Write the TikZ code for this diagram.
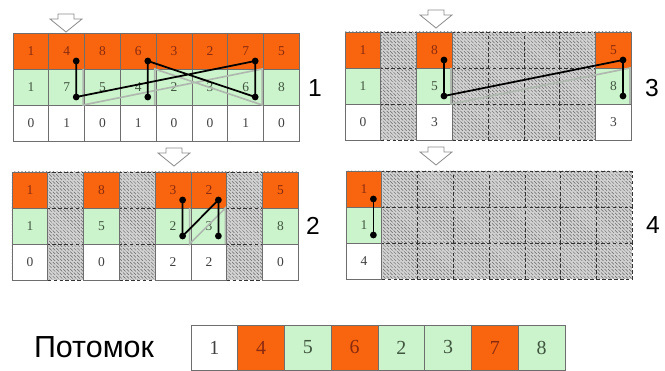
\documentclass[tikz,border=0pt]{standalone}
\usepackage{fontspec}
\setmainfont{Liberation Serif}
\newfontfamily\labelfont{Liberation Sans}
\usetikzlibrary{patterns}
\definecolor{cellorange}{HTML}{F8650E}
\definecolor{cellgreen}{HTML}{CCF4CC}
\definecolor{textred}{HTML}{8A2A10}
\definecolor{textgreen}{HTML}{3F563F}
\definecolor{shadowgray}{HTML}{AEB8AE}
\definecolor{gridgray}{HTML}{6E6E6E}
\definecolor{arrowgray}{HTML}{8C8C8C}
\newcommand{\hatchedgrid}[1]{\foreach \x in {0,...,7}{\foreach \y in {0,1,2}
        \node[box,hatched] (#1-\y-\x) at (\x*35.8+17.9,\y*36+18){};}}
\newcommand{\livecolumn}[5]{\node[box,orangebox] (#1-0-#2) at (#2*35.8+17.9,18){#3};
        \node[box,greenbox] (#1-1-#2) at (#2*35.8+17.9,54){#4};
        \node[box,whitebox] (#1-2-#2) at (#2*35.8+17.9,90){#5};}
\newcommand{\dotat}[1]{\coordinate (#1-dot) at ([shift={(9.5,10)}]#1.center);}
\newcommand{\blockarrow}[2]{\draw[blockarrow] (#1-8,#2) -- (#1+8,#2) -- (#1+8,#2+5) -- (#1+16,#2+5)
        -- (#1,#2+18) -- (#1-16,#2+5) -- (#1-8,#2+5) -- cycle;}

\begin{document}
\begin{tikzpicture}
        [x=0.03cm,y=-0.03cm,
        box/.style={rectangle,draw=gridgray,line width=0.6pt,minimum width=1.074cm,minimum height=1.08cm,inner sep=0pt,font=\fontsize{11.5}{13}\selectfont},
        orangebox/.style={fill=cellorange,text=textred},
        greenbox/.style={fill=cellgreen,text=textgreen},
        whitebox/.style={fill=white,text=black!75},
        hatched/.style={draw=black!80,densely dashed,preaction={fill=gray!35},pattern=north west lines,pattern color=black!60},
        link/.style={line width=1.5pt,black},
        shadowlink/.style={line width=1.4pt,draw=shadowgray,transform canvas={xshift=0.21cm,yshift=-0.24cm}},
        blockarrow/.style={draw=arrowgray,fill=white,line width=0.7pt},
        panellabel/.style={font=\labelfont\fontsize{21}{24}\selectfont},
        ]
        \useasboundingbox (0,0) rectangle (665,371);
        % step 1
        \begin{scope}[shift={(13,33)}]
                \foreach \x/\vt/\vm/\vb in {0/1/1/0,1/4/7/1,2/8/5/0,3/6/4/1,4/3/2/0,5/2/3/0,6/7/6/1,7/5/8/0}
                        {\livecolumn{pa}{\x}{\vt}{\vm}{\vb}}
        \end{scope}
        % step 2
        \begin{scope}[shift={(12,172)}]
                \hatchedgrid{pb}
                \foreach \x/\vt/\vm/\vb in {0/1/1/0,2/8/5/0,4/3/2/2,5/2/3/2,7/5/8/0}
                        {\livecolumn{pb}{\x}{\vt}{\vm}{\vb}}
        \end{scope}
        % step 3
        \begin{scope}[shift={(345,32)}]
                \hatchedgrid{pc}
                \foreach \x/\vt/\vm/\vb in {0/1/1/0,2/8/5/3,7/5/8/3}
                        {\livecolumn{pc}{\x}{\vt}{\vm}{\vb}}
        \end{scope}
        % step 4
        \begin{scope}[shift={(346,171)}]
                \hatchedgrid{pd}
                \livecolumn{pd}{0}{1}{1}{4}
        \end{scope}

        \foreach \c in {pa-0-1,pa-1-1,pa-0-6,pa-1-6,pa-0-3,pa-1-3,pb-0-4,pb-1-4,pb-0-5,pb-1-5,pc-0-2,pc-1-2,pc-0-7,pc-1-7,pd-0-0,pd-1-0}
                {\dotat{\c}}

        \draw[shadowlink] (pa-0-1-dot) -- (pa-1-1-dot) -- (pa-0-6-dot) -- (pa-1-6-dot) -- (pa-0-3-dot) -- (pa-1-3-dot);
        \draw[shadowlink] (pb-0-4-dot) -- (pb-1-4-dot) -- (pb-0-5-dot) -- (pb-1-5-dot);
        \draw[shadowlink] (pc-0-2-dot) -- (pc-1-2-dot) -- (pc-0-7-dot) -- (pc-1-7-dot);
        \draw[link] (pa-0-1-dot) -- (pa-1-1-dot) -- (pa-0-6-dot) -- (pa-1-6-dot) -- (pa-0-3-dot) -- (pa-1-3-dot);
        \draw[link] (pb-0-4-dot) -- (pb-1-4-dot) -- (pb-0-5-dot) -- (pb-1-5-dot);
        \draw[link] (pc-0-2-dot) -- (pc-1-2-dot) -- (pc-0-7-dot) -- (pc-1-7-dot);
        \draw[link] (pd-0-0-dot) -- (pd-1-0-dot);
        \foreach \c in {pa-0-1,pa-1-1,pa-0-6,pa-1-6,pa-0-3,pa-1-3,pb-0-4,pb-1-4,pb-0-5,pb-1-5,pc-0-2,pc-1-2,pc-0-7,pc-1-7,pd-0-0,pd-1-0}
                {\fill (\c-dot) circle[radius=3.4];}

        \blockarrow{66}{14}   \blockarrow{174}{148}
        \blockarrow{436}{10}  \blockarrow{436}{147}

        \node[panellabel] (laba) at (315,88){1};
        \node[panellabel] (labb) at (313,226){2};
        \node[panellabel] (labc) at (652,88){3};
        \node[panellabel] (labd) at (653,225){4};

        % offspring
        \node[font=\labelfont\fontsize{26}{30}\selectfont] (childlabel) at (94,347){Потомок};
        \foreach \x/\v/\s in {0/1/whitebox,1/4/orangebox,2/5/greenbox,3/6/orangebox,4/2/greenbox,5/3/greenbox,6/7/orangebox,7/8/greenbox}
                {\node[box,\s,minimum width=1.4025cm,minimum height=1.35cm,font=\fontsize{17}{20}\selectfont] (child-\x) at (191+\x*46.75+23.4,347.5){\v};}
\end{tikzpicture}
\end{document}
